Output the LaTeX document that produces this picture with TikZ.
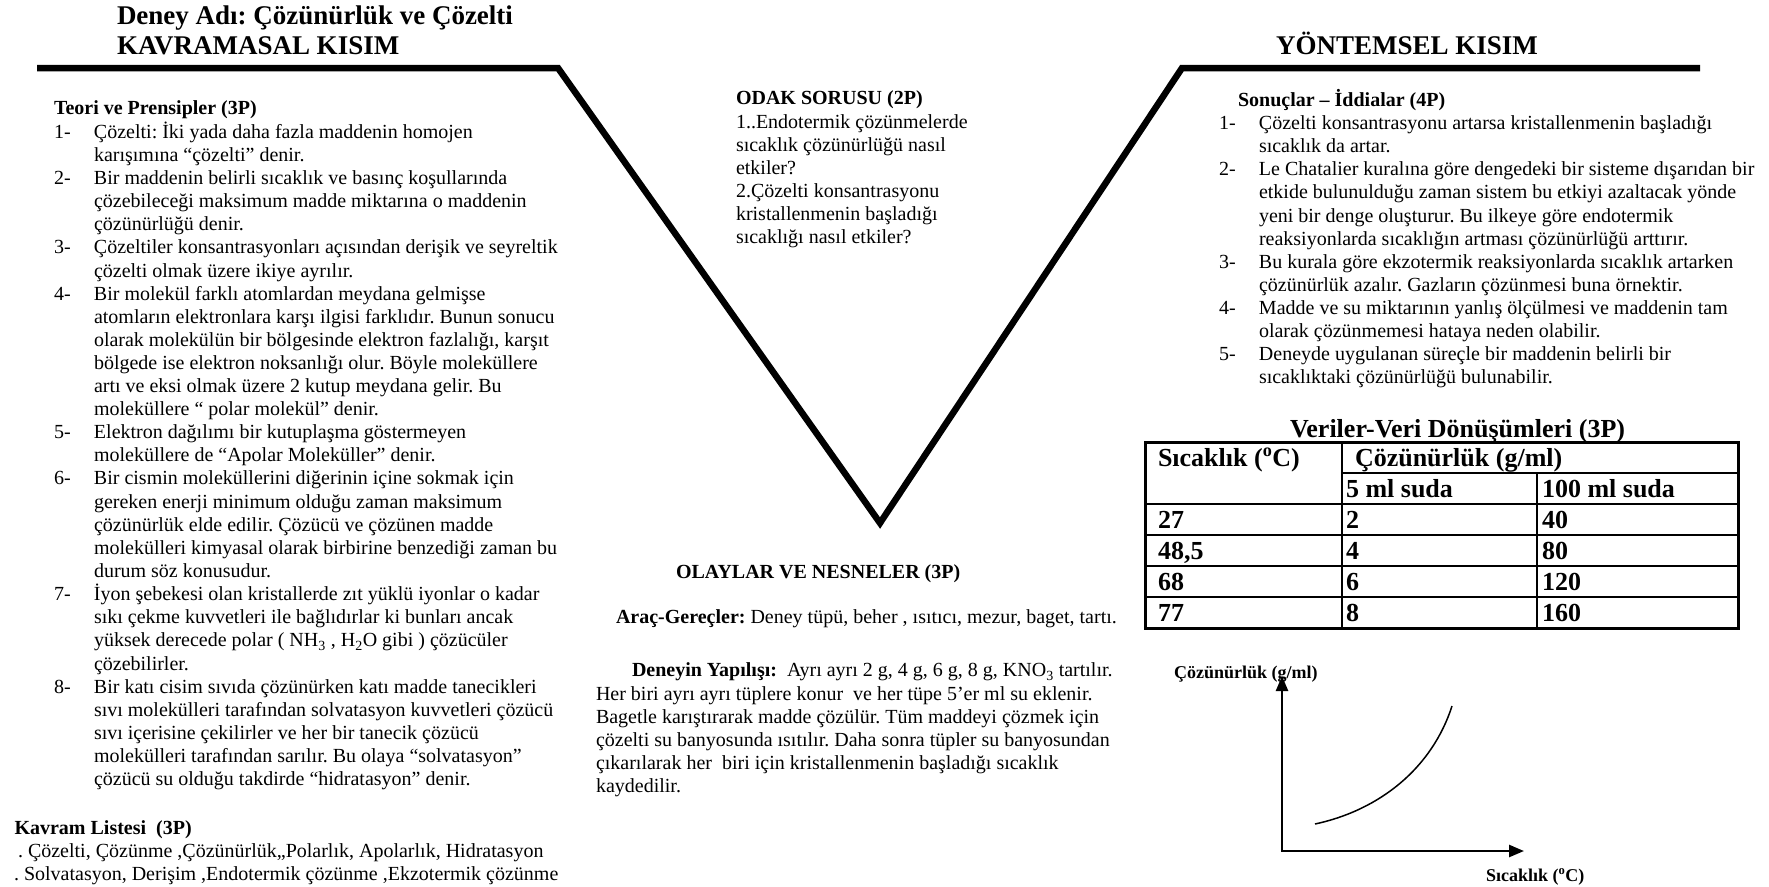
\documentclass[tikz,border=0pt]{standalone}
\usepackage{fontspec}
\setmainfont{Liberation Serif}
\usetikzlibrary{arrows.meta}
\begin{document}
\frenchspacing
\begin{tikzpicture}[x=1pt,y=-1pt,
  every node/.style={inner sep=0pt, outer sep=0pt},
  body/.style={font=\fontsize{20}{23.1}\selectfont},
  bodyb/.style={font=\fontsize{20}{23.1}\selectfont\bfseries},
  bigtitle/.style={font=\fontsize{27}{31}\selectfont\bfseries, anchor=base west},
  tabtitle/.style={font=\fontsize{26}{30}\selectfont\bfseries, anchor=base west},
  cell/.style={font=\fontsize{26}{30}\selectfont\bfseries, anchor=base west},
  axlabel/.style={font=\fontsize{18}{21}\selectfont\bfseries, anchor=base west},
  vline/.style={line width=6.5pt, line join=miter},
  outerrule/.style={line width=3pt},
  rowrule/.style={line width=2.5pt},
  colrule/.style={line width=1.2pt},
  axisline/.style={line width=2.5pt, {Triangle[length=15pt,width=12pt]}-{Triangle[length=15pt,width=12pt]}},
  curveline/.style={line width=1.5pt}
]
\useasboundingbox (0,0) rectangle (1769,886);

% titles
\node[bigtitle] (t1) at (117,24) {Deney Adı: Çözünürlük ve Çözelti};
\node[bigtitle] (t2) at (117,54) {KAVRAMASAL KISIM};
\node[bigtitle] (t3) at (1276,54) {YÖNTEMSEL KISIM};

% V shape
\coordinate (L0) at (37,68);
\coordinate (L1) at (558,68);
\coordinate (V) at (880,523);
\coordinate (R1) at (1182,68);
\coordinate (R0) at (1700,68);
\draw[vline] (L0) -- (L1) -- (V) -- (R1) -- (R0);

% left column
\node[body, anchor=north west] (teori) at (54,98.8) {%
\begin{tabular}{@{}p{40pt}@{}l@{}}
\multicolumn{2}{@{}l@{}}{\bfseries Teori ve Prensipler (3P)}\\
1- & Çözelti: İki yada daha fazla maddenin homojen\\
   & karışımına “çözelti” denir.\\
2- & Bir maddenin belirli sıcaklık ve basınç koşullarında\\
   & çözebileceği maksimum madde miktarına o maddenin\\
   & çözünürlüğü denir.\\
3- & Çözeltiler konsantrasyonları açısından derişik ve seyreltik\\
   & çözelti olmak üzere ikiye ayrılır.\\
4- & Bir molekül farklı atomlardan meydana gelmişse\\
   & atomların elektronlara karşı ilgisi farklıdır. Bunun sonucu\\
   & olarak molekülün bir bölgesinde elektron fazlalığı, karşıt\\
   & bölgede ise elektron noksanlığı olur. Böyle moleküllere\\
   & artı ve eksi olmak üzere 2 kutup meydana gelir. Bu\\
   & moleküllere “ polar molekül” denir.\\
5- & Elektron dağılımı bir kutuplaşma göstermeyen\\
   & moleküllere de “Apolar Moleküller” denir.\\
6- & Bir cismin moleküllerini diğerinin içine sokmak için\\
   & gereken enerji minimum olduğu zaman maksimum\\
   & çözünürlük elde edilir. Çözücü ve çözünen madde\\
   & molekülleri kimyasal olarak birbirine benzediği zaman bu\\
   & durum söz konusudur.\\
7- & İyon şebekesi olan kristallerde zıt yüklü iyonlar o kadar\\
   & sıkı çekme kuvvetleri ile bağlıdırlar ki bunları ancak\\
   & yüksek derecede polar ( NH\textsubscript{3} , H\textsubscript{2}O gibi ) çözücüler\\
   & çözebilirler.\\
8- & Bir katı cisim sıvıda çözünürken katı madde tanecikleri\\
   & sıvı molekülleri tarafından solvatasyon kuvvetleri çözücü\\
   & sıvı içerisine çekilirler ve her bir tanecik çözücü\\
   & molekülleri tarafından sarılır. Bu olaya “solvatasyon”\\
   & çözücü su olduğu takdirde “hidratasyon” denir.
\end{tabular}};

\node[bodyb, anchor=base west] (kavram) at (14.5,834) {Kavram Listesi~~(3P)};
\node[body, anchor=base west] (kav1) at (18,857) {. Çözelti, Çözünme ,Çözünürlük,,Polarlık, Apolarlık, Hidratasyon};
\node[body, anchor=base west] (kav2) at (14,880) {. Solvatasyon, Derişim ,Endotermik çözünme ,Ekzotermik çözünme};

% middle column
\node[body, anchor=north west] (odak) at (736,88.8) {%
\begin{tabular}{@{}l@{}}
\bfseries ODAK SORUSU (2P)\\
1..Endotermik çözünmelerde\\
sıcaklık çözünürlüğü nasıl\\
etkiler?\\
2.Çözelti konsantrasyonu\\
kristallenmenin başladığı\\
sıcaklığı nasıl etkiler?
\end{tabular}};

\node[bodyb, anchor=base west] (olaylar) at (676,578) {OLAYLAR VE NESNELER (3P)};
\node[body, anchor=base west] (arac) at (616,623) {\bfseries Araç-Gereçler:\mdseries{} Deney tüpü, beher , ısıtıcı, mezur, baget, tartı.};
\node[body, anchor=north west] (deney) at (596,660.8) {%
\begin{tabular}{@{}l@{}}
\hspace*{36pt}\textbf{Deneyin Yapılışı:}~~Ayrı ayrı 2 g, 4 g, 6 g, 8 g, KNO\textsubscript{3} tartılır.\\
Her biri ayrı ayrı tüplere konur~~ve her tüpe 5’er ml su eklenir.\\
Bagetle karıştırarak madde çözülür. Tüm maddeyi çözmek için\\
çözelti su banyosunda ısıtılır. Daha sonra tüpler su banyosundan\\
çıkarılarak her~~biri için kristallenmenin başladığı sıcaklık\\
kaydedilir.
\end{tabular}};

% right column
\node[body, anchor=north west] (sonuc) at (1219,89.4) {%
\begin{tabular}{@{}p{40pt}@{}l@{}}
\multicolumn{2}{@{}l@{}}{\hspace*{19pt}\bfseries Sonuçlar – İddialar (4P)}\\
1- & Çözelti konsantrasyonu artarsa kristallenmenin başladığı\\
   & sıcaklık da artar.\\
2- & Le Chatalier kuralına göre dengedeki bir sisteme dışarıdan bir\\
   & etkide bulunulduğu zaman sistem bu etkiyi azaltacak yönde\\
   & yeni bir denge oluşturur. Bu ilkeye göre endotermik\\
   & reaksiyonlarda sıcaklığın artması çözünürlüğü arttırır.\\
3- & Bu kurala göre ekzotermik reaksiyonlarda sıcaklık artarken\\
   & çözünürlük azalır. Gazların çözünmesi buna örnektir.\\
4- & Madde ve su miktarının yanlış ölçülmesi ve maddenin tam\\
   & olarak çözünmemesi hataya neden olabilir.\\
5- & Deneyde uygulanan süreçle bir maddenin belirli bir\\
   & sıcaklıktaki çözünürlüğü bulunabilir.
\end{tabular}};

% table
\node[tabtitle] (ttitle) at (1290,437) {Veriler-Veri Dönüşümleri (3P)};
\draw[colrule] (1342,442) -- (1342,628);
\draw[colrule] (1537,473) -- (1537,628);
\draw[colrule] (1342,473) -- (1738,473);
\foreach \yy in {504,535,566,597} \draw[rowrule] (1145,\yy) -- (1738,\yy);
\draw[outerrule] (1145,442) rectangle (1738,628);

\node[cell] (h1) at (1158,466) {Sıcaklık (\textsuperscript{o}C)};
\node[cell] (h2) at (1355,466) {Çözünürlük (g/ml)};
\node[cell] (h3) at (1346,497) {5 ml suda};
\node[cell] (h4) at (1542,497) {100 ml suda};
\node[cell] (a1) at (1158,528) {27};
\node[cell] (b1) at (1346,528) {2};
\node[cell] (c1) at (1542,528) {40};
\node[cell] (a2) at (1158,559) {48,5};
\node[cell] (b2) at (1346,559) {4};
\node[cell] (c2) at (1542,559) {80};
\node[cell] (a3) at (1158,590) {68};
\node[cell] (b3) at (1346,590) {6};
\node[cell] (c3) at (1542,590) {120};
\node[cell] (a4) at (1158,621) {77};
\node[cell] (b4) at (1346,621) {8};
\node[cell] (c4) at (1542,621) {160};

% graph
\coordinate (O) at (1282,851);
\coordinate (Ytip) at (1282,676);
\coordinate (Xtip) at (1524,851);
\coordinate (C0) at (1315,824);
\coordinate (C1) at (1452,706);
\draw[axisline] (Ytip) -- (O) -- (Xtip);
\draw[curveline] (C0) .. controls (1380,810) and (1432,768) .. (C1);
\node[axlabel] (ylab) at (1174,678) {Çözünürlük (g/ml)};
\node[axlabel] (xlab) at (1486,881) {Sıcaklık (\textsuperscript{o}C)};
\end{tikzpicture}
\end{document}
